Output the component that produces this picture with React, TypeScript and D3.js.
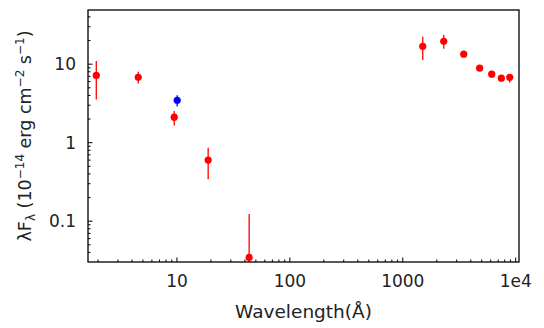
import React from 'react'
import * as d3 from 'd3'

// wavelength (Å), flux (1e-14 erg/cm2/s), error bounds
const wavelength = [1.93, 4.54, 9.46, 18.9, 43.6, 1503, 2306, 3467, 4796, 6135, 7466, 8856]
const flux = [7.2, 6.8, 2.11, 0.60, 0.0345, 16.9, 19.6, 13.4, 8.9, 7.46, 6.64, 6.82]
const fluxHi = [11.0, 7.98, 2.54, 0.863, 0.123, 22.3, 23.6, 13.9, 9.2, 7.7, 6.85, 7.52]
const fluxLo = [3.54, 5.66, 1.65, 0.341, 0.02, 11.3, 15.7, 12.9, 8.6, 7.2, 6.45, 5.83]

// the single blue point
const blueWavelength = [10.05]
const blueFlux = [3.47]
const blueHi = [4.03]
const blueLo = [2.88]

const xTickValues = [10, 100, 1000, 10000]
const xTickLabels = ['10', '100', '1000', '1e4']
const yTickValues = [0.1, 1, 10]
const yTickLabels = ['0.1', '1', '10']

const W = 544
const H = 328
const margin = { left: 88, top: 10, right: 25, bottom: 66 }
const font = '"DejaVu Sans", sans-serif'

const App = () => {
  const x = d3.scaleLog().domain([1.63, 10700]).range([margin.left, W - margin.right])
  const y = d3.scaleLog().domain([0.0302, 49]).range([H - margin.bottom, margin.top])
  const bottom = H - margin.bottom

  const isMajor = (v: number) => Math.abs(Math.log10(v) - Math.round(Math.log10(v))) < 1e-6
  const xMinor = x.ticks().filter(v => v >= 1.63 && v <= 10700)
  const yMinor = y.ticks().filter(v => v >= 0.0302 && v <= 49)

  const points = wavelength.map((w, i) => ({ w, f: flux[i], hi: fluxHi[i], lo: fluxLo[i], c: '#ff0000' }))
    .concat(blueWavelength.map((w, i) => ({ w, f: blueFlux[i], hi: blueHi[i], lo: blueLo[i], c: '#0000ff' })))

  return (
    <svg width={W} height={H} style={{ position: 'absolute', left: 0, top: 0, background: '#fff' }}>
      <defs>
        <clipPath id="plot">
          <rect x={margin.left} y={margin.top} width={W - margin.left - margin.right} height={bottom - margin.top} />
        </clipPath>
      </defs>
      {xMinor.map((v, i) => (
        <line key={'xt' + i} x1={x(v)} x2={x(v)} y1={bottom} y2={bottom - (isMajor(v) ? 4.5 : 2.5)} stroke="#000" strokeWidth={1} />
      ))}
      {yMinor.map((v, i) => (
        <line key={'yt' + i} x1={margin.left} x2={margin.left + (isMajor(v) ? 4.5 : 2.5)} y1={y(v)} y2={y(v)} stroke="#000" strokeWidth={1} />
      ))}
      <g clipPath="url(#plot)">
        {points.map((p, i) => (
          <g key={'p' + i}>
            <line x1={x(p.w)} x2={x(p.w)} y1={y(p.hi)} y2={y(p.lo)} stroke={p.c} strokeWidth={1.3} />
            <circle cx={x(p.w)} cy={y(p.f)} r={3.6} fill={p.c} />
          </g>
        ))}
      </g>
      <rect x={margin.left} y={margin.top} width={W - margin.left - margin.right} height={bottom - margin.top} fill="none" stroke="#000" strokeWidth={1.3} />
      {xTickValues.map((v, i) => (
        <text key={'xl' + i} x={x(v)} y={287} textAnchor="middle" fontFamily={font} fontSize={17} fill="#222">{xTickLabels[i]}</text>
      ))}
      {yTickValues.map((v, i) => (
        <text key={'yl' + i} x={76} y={y(v)} dy="0.35em" textAnchor="end" fontFamily={font} fontSize={17} fill="#222">{yTickLabels[i]}</text>
      ))}
      <text x={(margin.left + W - margin.right) / 2} y={318} textAnchor="middle" fontFamily={font} fontSize={18.5} fill="#222">Wavelength(Å)</text>
      <text transform={`translate(31,${(margin.top + bottom) / 2}) rotate(-90)`} textAnchor="middle" fontFamily={font} fontSize={17.5} fill="#222">
        λF<tspan fontSize={12} dy={4}>λ</tspan>
        <tspan dy={-4}> (10</tspan><tspan fontSize={12} dy={-7}>−14</tspan>
        <tspan dy={7}> erg cm</tspan><tspan fontSize={12} dy={-7}>−2</tspan>
        <tspan dy={7}> s</tspan><tspan fontSize={12} dy={-7}>−1</tspan>
        <tspan dy={7}>)</tspan>
      </text>
    </svg>
  )
}

export default App
